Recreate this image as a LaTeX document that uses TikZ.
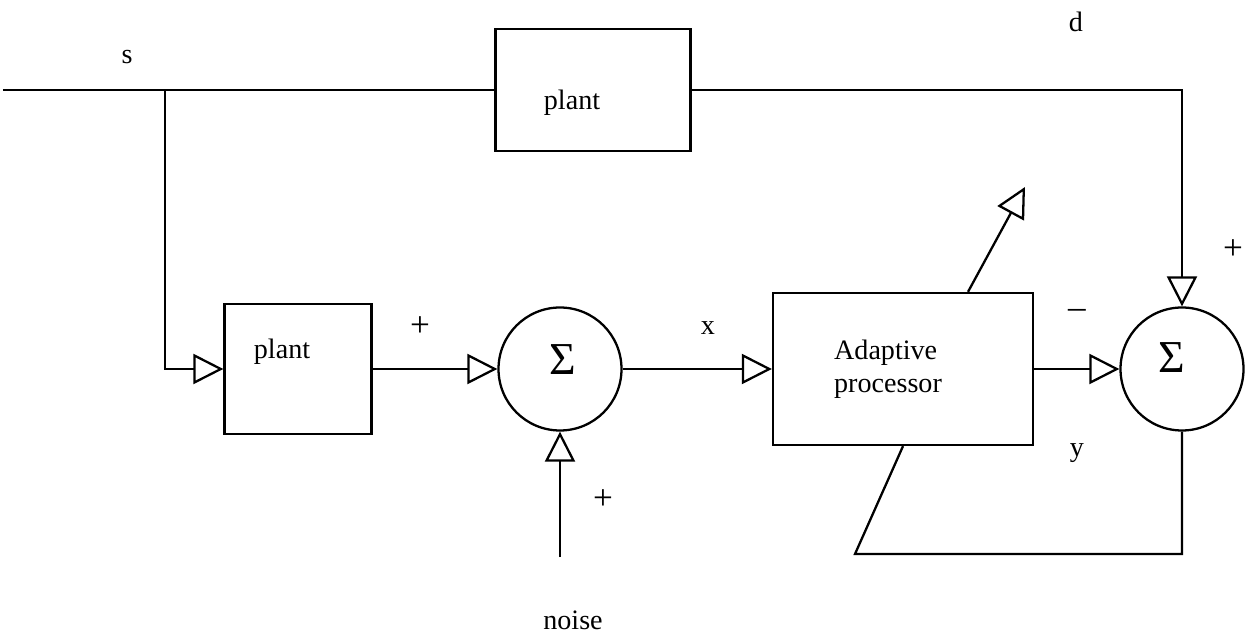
\documentclass[tikz,border=0pt]{standalone}
\usepackage{fontspec}
\setmainfont{Liberation Serif}
\usetikzlibrary{arrows.meta}

\begin{document}
\begin{tikzpicture}[line width=1.3pt, font=\fontsize{16}{19}\selectfont,
	sig/.style={-{Triangle[open, length=0.6cm, width=0.6cm]}},
	blk/.style={draw, rectangle, inner sep=0pt},
	sumnode/.style={draw, circle, minimum size=2.46cm, inner sep=0pt},
	sumsign/.style={font=\fontsize{26}{26}\selectfont},
	sgn/.style={font=\fontsize{20}{20}\selectfont}]
	
	% 1. Kich thuoc khung hinh
	\def\xmax{24.98}
	\def\ymax{12.76}
	\useasboundingbox (0,0) rectangle (\xmax,\ymax);
	
	% 2. Cac khoi
	\node[blk, minimum width=3.9cm, minimum height=2.44cm,
		label={[xshift=-0.42cm, yshift=-0.26cm]center:plant}] (plantT) at (11.86,10.96) {};
	\node[blk, minimum width=2.94cm, minimum height=2.6cm,
		label={[xshift=-0.32cm, yshift=0.34cm]center:plant}] (plantB) at (5.96,5.38) {};
	\node[blk, minimum width=5.2cm, minimum height=3.04cm,
		label={[xshift=-0.3cm, align=left]center:Adaptive\\processor}] (proc) at (18.06,5.38) {};
	
	% 3. Cac bo cong
	\node[sumnode] (sum1) at (11.2,5.38) {};
	\node[sumsign] (sig1) at (11.26,5.56) {Σ};
	\node[sumnode] (sum2) at (23.64,5.38) {};
	\node[sumsign] (sig2) at (23.44,5.6) {Σ};
	
	% 4. Diem phu
	\coordinate (sIn) at (0.06,10.96);
	\coordinate (br) at (3.3,10.96);
	\coordinate (nz) at (11.2,1.62);
	\coordinate (fb) at (17.1,1.68);
	\coordinate (tune) at (20.5,9.02);
	
	% 5. Duong tin hieu
	\draw (sIn) -- (plantT.west);
	\draw[sig] (br) |- (plantB.west);
	\draw[sig] (plantT.east) -| (sum2.north);
	\draw[sig] (plantB.east) -- (sum1.west);
	\draw[sig] (nz) -- (sum1.south);
	\draw[sig] (sum1.east) -- (proc.west);
	\draw[sig] (proc.east) -- (sum2.west);
	\draw (sum2.south) |- (fb) -- (proc.south);
	\draw[sig] ([xshift=1.3cm]proc.north) -- (tune);
	
	% 6. Nhan
	\node (lblS) at (2.54,11.62) {s};
	\node (lblD) at (21.52,12.32) {d};
	\node (lblX) at (14.16,6.2) {x};
	\node (lblY) at (21.54,3.7) {y};
	\node (lblNoise) at (11.46,0.36) {noise};
	\node[sgn] (plus1) at (8.4,6.22) {+};
	\node[sgn] (plus2) at (12.06,2.76) {+};
	\node[sgn] (plus3) at (24.66,7.76) {+};
	\node[sgn] (minus) at (21.54,6.48) {–};
	
\end{tikzpicture}
\end{document}
